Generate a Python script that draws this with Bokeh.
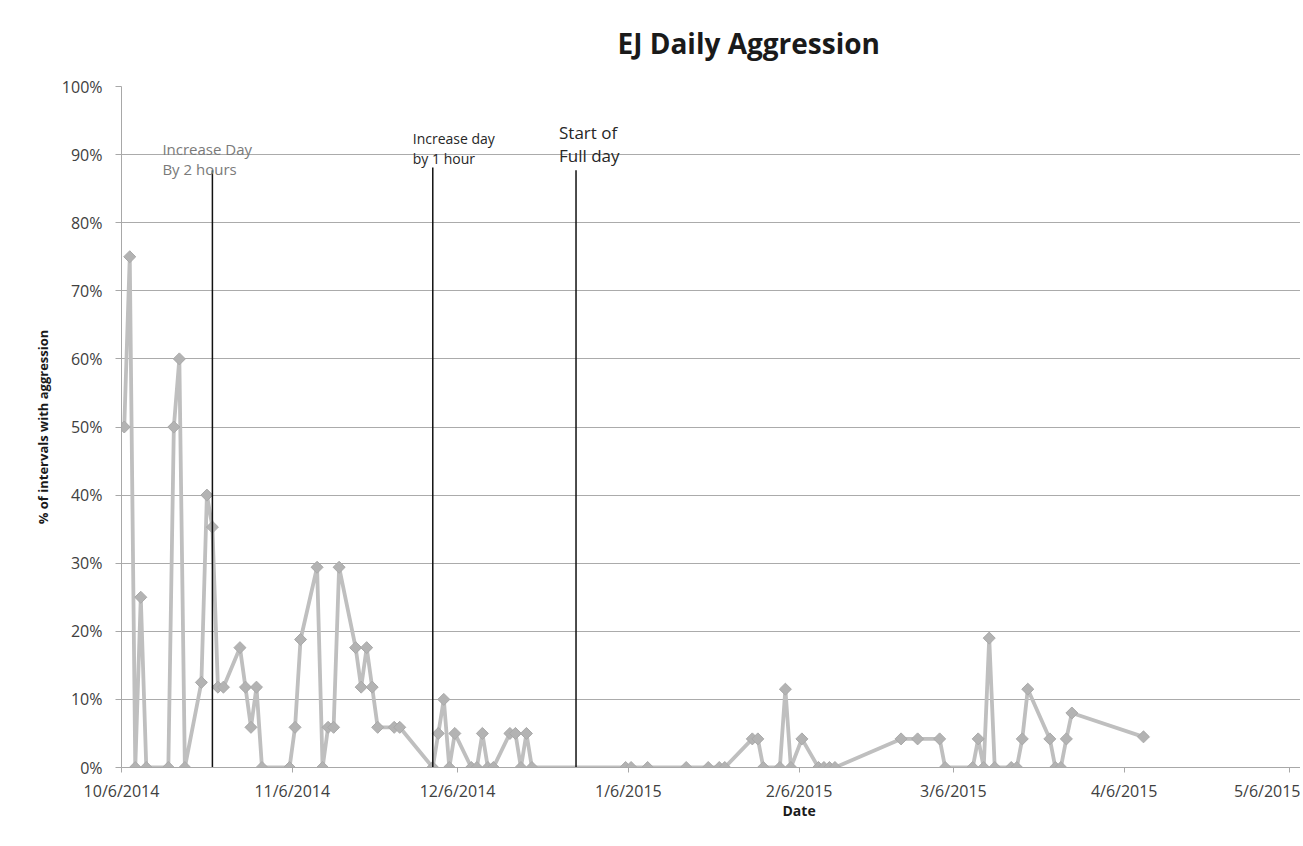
import pandas as pd
from bokeh.plotting import figure
from bokeh.models import Range1d, FixedTicker, PrintfTickFormatter, Title, ColumnDataSource
from bokeh.embed import file_html
from bokeh.resources import INLINE
from bokeh.core.properties import value
import math

# ---- data ----
dates = [
    "10/6/2014", "10/7/2014", "10/8/2014", "10/9/2014", "10/10/2014",
    "10/14/2014", "10/15/2014", "10/16/2014", "10/17/2014",
    "10/20/2014", "10/21/2014", "10/22/2014", "10/23/2014", "10/24/2014",
    "10/27/2014", "10/28/2014", "10/29/2014", "10/30/2014", "10/31/2014",
    "11/5/2014", "11/6/2014", "11/7/2014",
    "11/10/2014", "11/11/2014", "11/12/2014", "11/13/2014", "11/14/2014",
    "11/17/2014", "11/18/2014", "11/19/2014", "11/20/2014", "11/21/2014",
    "11/24/2014", "11/25/2014",
    "12/1/2014", "12/2/2014", "12/3/2014", "12/4/2014", "12/5/2014",
    "12/8/2014", "12/9/2014", "12/10/2014", "12/11/2014", "12/12/2014",
    "12/15/2014", "12/16/2014", "12/17/2014", "12/18/2014", "12/19/2014",
    "1/5/2015", "1/6/2015", "1/9/2015", "1/16/2015",
    "1/20/2015", "1/22/2015", "1/23/2015",
    "1/28/2015", "1/29/2015", "1/30/2015",
    "2/2/2015", "2/3/2015", "2/4/2015", "2/6/2015",
    "2/9/2015", "2/10/2015", "2/11/2015", "2/12/2015",
    "2/24/2015", "2/27/2015",
    "3/3/2015", "3/4/2015",
    "3/9/2015", "3/10/2015", "3/11/2015", "3/12/2015", "3/13/2015",
    "3/16/2015", "3/17/2015", "3/18/2015", "3/19/2015",
    "3/23/2015", "3/24/2015", "3/25/2015", "3/26/2015", "3/27/2015",
    "4/9/2015",
]
aggression_pct = [
    50, 75, 0, 25, 0,
    0, 50, 60, 0,
    12.5, 40, 35.3, 11.8, 11.8,
    17.6, 11.8, 5.9, 11.8, 0,
    0, 5.9, 18.8,
    29.4, 0, 5.9, 5.9, 29.4,
    17.6, 11.8, 17.6, 11.8, 5.9,
    5.9, 5.9,
    0, 5, 10, 0, 5,
    0, 0, 5, 0, 0,
    5, 5, 0, 5, 0,
    0, 0, 0, 0,
    0, 0, 0,
    4.2, 4.2, 0,
    0, 11.5, 0, 4.2,
    0, 0, 0, 0,
    4.2, 4.2,
    4.2, 0,
    0, 4.2, 0, 19, 0,
    0, 0, 4.2, 11.5,
    4.2, 0, 0, 4.2, 8,
    4.5,
]

tick_dates = ["10/6/2014", "11/6/2014", "12/6/2014", "1/6/2015",
              "2/6/2015", "3/6/2015", "4/6/2015", "5/6/2015"]
y_ticks = [0, 10, 20, 30, 40, 50, 60, 70, 80, 90, 100]

event_dates = ["10/22/2014", "12/1/2014", "12/27/2014"]
event_line_top = [87.7, 88.1, 87.7]
event_line1 = ["Increase Day", "Increase day", "Start of"]
event_line2 = ["By 2 hours", "by 1 hour", "Full day"]

chart_title = "EJ Daily Aggression"
x_title = "Date"
y_title = "% of intervals with aggression"

# ---- helpers ----
start = pd.Timestamp("2014-10-06")


def day_pos(ds, half=0.0):
    return [(pd.to_datetime(d, format="%m/%d/%Y") - start).days + half for d in ds]


x = day_pos(dates, 0.5)
ticks = [int(v) for v in day_pos(tick_dates)]
ex = day_pos(event_dates, 0.5)

FONT = "Open Sans"

p = figure(width=1300, height=838,
           x_range=Range1d(0, 214.0), y_range=Range1d(0, 100),
           output_backend="svg", toolbar_location=None,
           min_border_left=121, min_border_right=0,
           min_border_top=86, min_border_bottom=71)

p.outline_line_color = None
p.background_fill_color = "white"
p.border_fill_color = "white"

# title
p.title.text = chart_title
p.title.align = "left"
p.title.offset = 496
p.title.vertical_align = "top"
p.title.standoff = 46
p.title.text_font = FONT
p.title.text_font_size = "28px"
p.title.text_font_style = "bold"
p.title.text_color = "#1a1a1a"

# x axis
p.xaxis.ticker = FixedTicker(ticks=ticks)
p.xaxis.major_label_overrides = {t: lab for t, lab in zip(ticks, tick_dates)}
p.xaxis.major_label_text_font = FONT
p.xaxis.major_label_text_font_size = "16px"
p.xaxis.major_label_text_color = "#404040"
p.xaxis.major_label_standoff = 7
p.xaxis.major_tick_out = 5
p.xaxis.major_tick_in = 0
p.xaxis.minor_tick_line_color = None
p.xaxis.axis_line_color = "#a8a8a8"
p.xaxis.major_tick_line_color = "#a8a8a8"

p.add_layout(Title(text=x_title, align="left", offset=661, standoff=-12,
                   text_font=FONT, text_font_size="14px",
                   text_font_style="bold", text_color="#1a1a1a"), "below")

# y axis
p.yaxis.ticker = FixedTicker(ticks=y_ticks)
p.yaxis.formatter = PrintfTickFormatter(format="%d%%")
p.yaxis.major_label_text_font = FONT
p.yaxis.major_label_text_font_size = "16px"
p.yaxis.major_label_text_color = "#404040"
p.yaxis.major_label_standoff = 13
p.yaxis.major_tick_out = 6
p.yaxis.major_tick_in = 0
p.yaxis.minor_tick_line_color = None
p.yaxis.axis_line_color = "#a8a8a8"
p.yaxis.major_tick_line_color = "#a8a8a8"
p.yaxis.axis_label = y_title
p.yaxis.axis_label_text_font = FONT
p.yaxis.axis_label_text_font_size = "13px"
p.yaxis.axis_label_text_font_style = "bold"
p.yaxis.axis_label_text_color = "#1a1a1a"
p.yaxis.axis_label_standoff = 7

# grid
p.xgrid.visible = False
p.ygrid.ticker = FixedTicker(ticks=y_ticks)
p.ygrid.grid_line_color = "#ababab"
p.ygrid.grid_line_width = 1

# series
src = ColumnDataSource(dict(x=x, y=aggression_pct))
p.line("x", "y", source=src, line_color="#bfbfbf", line_width=3.8)
p.scatter("x", "y", source=src, marker="square", size=8.5, angle=math.pi / 4,
          fill_color="#b3b3b3", line_color="#a9a9a9", line_width=1)

# phase-change lines
p.segment(x0=ex, y0=[0] * len(ex), x1=ex, y1=event_line_top,
          line_color="#111111", line_width=1.5)

# phase-change labels
p.text(x=[ex[0]] * 2, y=[90.85, 87.9], text=[event_line1[0], event_line2[0]],
       x_offset=-50, text_font=value(FONT), text_font_size="15px",
       text_color="#7a7a7a", text_baseline="middle", text_align="left")
p.text(x=[ex[1]] * 2, y=[92.3, 89.5], text=[event_line1[1], event_line2[1]],
       x_offset=-20, text_font=value(FONT), text_font_size="14px",
       text_color="#262626", text_baseline="middle", text_align="left")
p.text(x=[ex[2]] * 2, y=[93.3, 89.9], text=[event_line1[2], event_line2[2]],
       x_offset=-17, text_font=value(FONT), text_font_size="17px",
       text_color="#262626", text_baseline="middle", text_align="left")

open("out.html", "w").write(file_html(p, INLINE))
